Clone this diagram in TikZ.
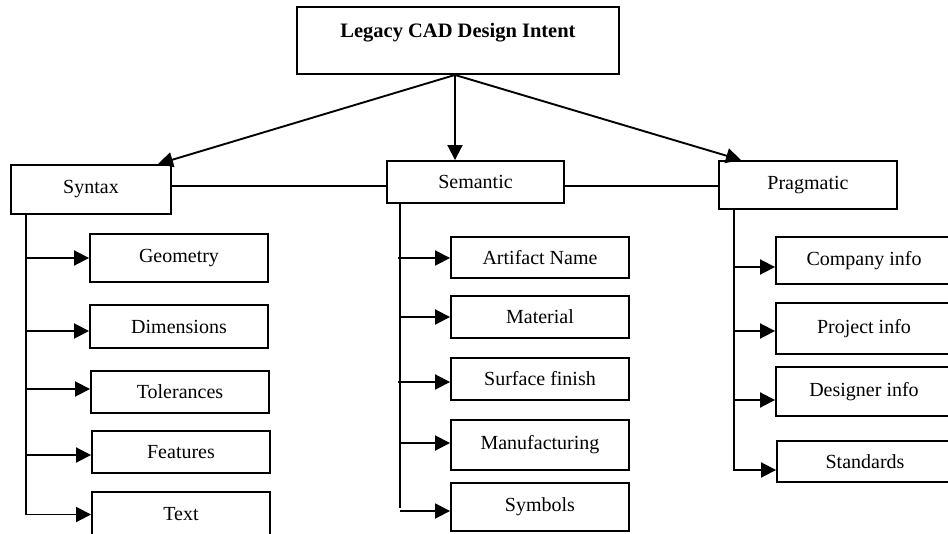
\documentclass[tikz,border=0pt]{standalone}
\usepackage{fontspec}
\setmainfont{Liberation Serif}
\usetikzlibrary{arrows.meta,calc}
\tikzset{
  box/.style={draw, line width=1.9pt, inner sep=0pt, font=\fontsize{20}{22}\selectfont, fill=white},
  conn/.style={line width=1.9pt},
  arr/.style={line width=1.9pt, -{Triangle[length=15pt,width=15pt]}},
}
\begin{document}
\begin{tikzpicture}[x=1pt,y=-1pt]
\useasboundingbox (0,0) rectangle (948,533);
\clip (0,0) rectangle (948,533);
% top
\node[box, minimum width=322pt, minimum height=67pt, text height=15pt, text depth=22pt, font=\fontsize{20.5}{22}\selectfont\bfseries] (top) at (458,40.5) {Legacy CAD Design Intent};
% level 1
\node[box, minimum width=160pt, minimum height=49pt] (syn) at (91,189.5) {Syntax};
\node[box, minimum width=177pt, minimum height=42pt] (sem) at (475.5,182) {Semantic};
\node[box, minimum width=178pt, minimum height=48pt] (prag) at (808,185) {Pragmatic};
% syntax children
\node[box, minimum width=178pt, minimum height=48pt] (geo) at (179,258) {Geometry};
\node[box, minimum width=178pt, minimum height=43pt] (dim) at (179,326.5) {Dimensions};
\node[box, minimum width=178pt, minimum height=42pt] (tol) at (180,392) {Tolerances};
\node[box, minimum width=178pt, minimum height=42pt] (fea) at (181,452) {Features};
\node[box, minimum width=178pt, minimum height=45pt] (txt) at (181,514.5) {Text};
% semantic children
\node[box, minimum width=178pt, minimum height=41pt] (art) at (540,257.5) {Artifact Name};
\node[box, minimum width=178pt, minimum height=42pt] (mat) at (540,317) {Material};
\node[box, minimum width=178pt, minimum height=42pt] (sur) at (540,379) {Surface finish};
\node[box, minimum width=178pt, minimum height=50pt] (man) at (540,445) {Manufacturing};
\node[box, minimum width=178pt, minimum height=48pt] (sym) at (540,507) {Symbols};
% pragmatic children
\node[box, minimum width=176pt, minimum height=47pt] (com) at (864,260.5) {Company info};
\node[box, minimum width=176pt, minimum height=51pt] (pro) at (864,328.5) {Project info};
\node[box, minimum width=176pt, minimum height=49pt] (des) at (864,391.5) {Designer info};
\node[box, minimum width=176pt, minimum height=41pt] (std) at (865,461.5) {Standards};
% top arrows
\coordinate (o) at ($(top.south)+(-3,0)$);
\draw[arr] (o) -- ($(syn.north east)+(-14,0)$);
\draw[arr] (o) -- (o |- sem.north);
\draw[arr] (o) -- ($(prag.north west)+(23,0)$);
% horizontal links
\coordinate (h) at (0,186);
\draw[conn] (syn.east |- h) -- (sem.west |- h);
\draw[conn] (sem.east |- h) -- (prag.west |- h);
% syntax trunk
\coordinate (sT) at ($(syn.south west)+(16,0)$);
\draw[arr] (sT) |- (txt.west);
\draw[arr] (sT |- geo.west) -- (geo.west);
\draw[arr] ($(sT |- dim.west)+(0,4.5)$) -- ($(dim.west)+(0,4.5)$);
\draw[arr] ($(sT |- tol.west)+(0,-3)$) -- ($(tol.west)+(0,-3)$);
\draw[arr] ($(sT |- fea.west)+(0,3)$) -- ($(fea.west)+(0,3)$);
% semantic trunk
\coordinate (mT) at ($(sem.south west)+(14,0)$);
\draw[conn] (mT) -- ($(mT |- sym.west)+(0,1)$);
\draw[arr] ($(mT |- sym.west)+(0,4)$) -- ($(sym.west)+(0,4)$);
\draw[arr] ($(mT |- art.west)+(-2,0.5)$) -- ($(art.west)+(0,0.5)$);
\draw[arr] (mT |- mat.west) -- (mat.west);
\draw[arr] ($(mT |- sur.west)+(-2,3)$) -- ($(sur.west)+(0,3)$);
\draw[arr] ($(mT |- man.west)+(0,-2)$) -- ($(man.west)+(0,-2)$);
% pragmatic trunk
\coordinate (pT) at ($(prag.south west)+(16,0)$);
\draw[arr] (pT) |- ($(std.west)+(0,8.5)$);
\draw[arr] ($(pT |- com.west)+(0,6.5)$) -- ($(com.west)+(0,6.5)$);
\draw[arr] ($(pT |- pro.west)+(0,2.5)$) -- ($(pro.west)+(0,2.5)$);
\draw[arr] ($(pT |- des.west)+(0,8.5)$) -- ($(des.west)+(0,8.5)$);
\end{tikzpicture}
\end{document}
